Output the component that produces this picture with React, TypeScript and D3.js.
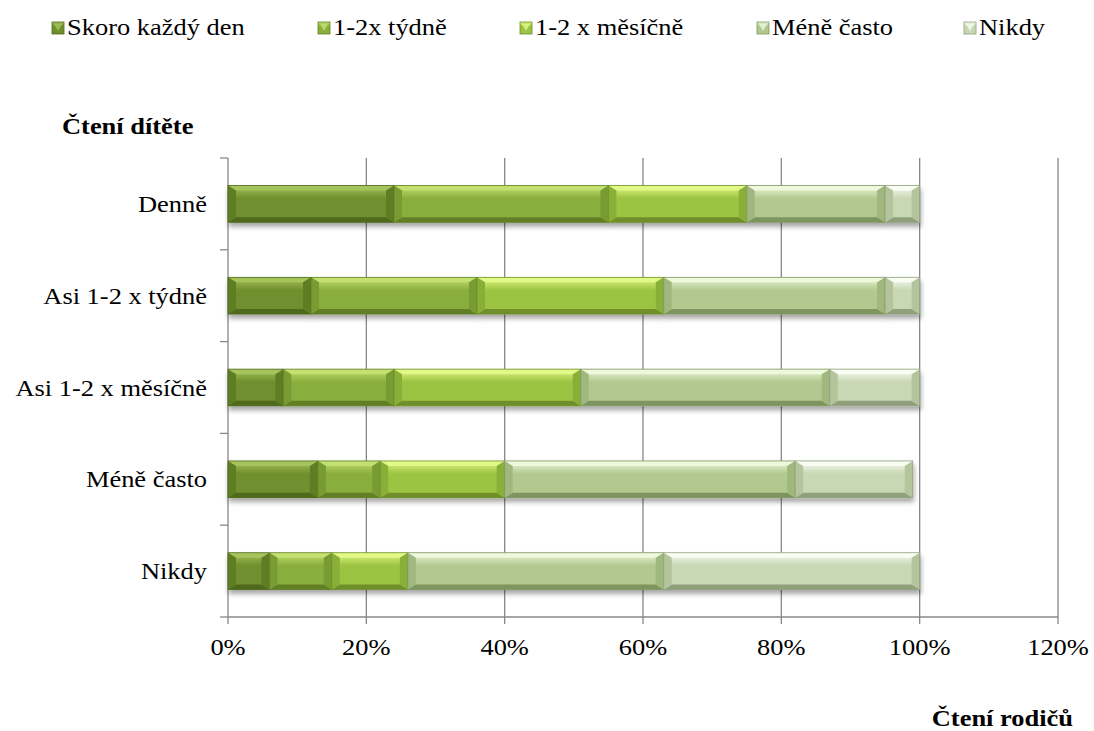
import React from 'react';
import * as d3 from 'd3';

// reading of the child (rows) vs. reading of the parents (series)
const categories = ['Denně', 'Asi 1-2 x týdně', 'Asi 1-2 x měsíčně', 'Méně často', 'Nikdy'];
const seriesNames = ['Skoro každý den', '1-2x týdně', '1-2 x měsíčně', 'Méně často', 'Nikdy'];

const skoroKazdyDen = [0.24, 0.12, 0.08, 0.13, 0.06];
const tydne = [0.31, 0.24, 0.16, 0.09, 0.09];
const mesicne = [0.20, 0.27, 0.27, 0.18, 0.11];
const meneCasto = [0.20, 0.32, 0.36, 0.42, 0.37];
const nikdy = [0.05, 0.05, 0.13, 0.17, 0.37];

const xTicks = [0, 0.2, 0.4, 0.6, 0.8, 1.0, 1.2];

// base, light (top), dark (bottom), side bevel
const palette = [
  { base: '#6f8f2d', light: '#a6c45c', dark: '#4f6a1c', side: '#5f7d24' },
  { base: '#8aae3d', light: '#c4e070', dark: '#627f26', side: '#789c33' },
  { base: '#9cc442', light: '#e2f887', dark: '#6f8f2a', side: '#88b038' },
  { base: '#b1c98e', light: '#eef8dc', dark: '#7f9561', side: '#a0b87e' },
  { base: '#c8d7b4', light: '#fafdf4', dark: '#90a07c', side: '#b4c59e' },
];

const FONT = "'Liberation Serif'";
const SX = 1.15;

const W = 1094;
const H = 731;
const left = 228;
const right = 1058;
const top = 158;
const bottom = 617;

const T: React.FC<{ x: number; y: number; anchor?: string; bold?: boolean; size?: number; children: React.ReactNode }> = ({ x, y, anchor = 'start', bold, size = 23, children }) => (
  <text
    transform={`translate(${x},${y}) scale(${SX},1)`}
    textAnchor={anchor}
    style={{ fontFamily: FONT, fontSize: size, fontWeight: bold ? 'bold' : 'normal' }}
    fill="#000"
  >
    {children}
  </text>
);

const Bevel: React.FC<{ x0: number; x1: number; y0: number; y1: number; c: typeof palette[0]; id: number }> = ({ x0, x1, y0, y1, c, id }) => {
  const b = Math.min(8, (x1 - x0) / 2);
  const bv = 5;
  const p = (pts: number[][]) => pts.map(q => q.join(',')).join(' ');
  return (
    <g>
      <rect x={x0} y={y0} width={x1 - x0} height={y1 - y0} fill={`url(#face${id})`} />
      <polygon points={p([[x0, y0], [x1, y0], [x1 - b, y0 + bv], [x0 + b, y0 + bv]])} fill={c.light} />
      <polygon points={p([[x0, y1], [x1, y1], [x1 - b, y1 - bv], [x0 + b, y1 - bv]])} fill={c.dark} />
      <polygon points={p([[x0, y0], [x0 + b, y0 + bv], [x0 + b, y1 - bv], [x0, y1]])} fill={c.side} />
      <polygon points={p([[x1, y0], [x1 - b, y0 + bv], [x1 - b, y1 - bv], [x1, y1]])} fill={c.side} />
      <rect x={x0} y={y0} width={x1 - x0} height={y1 - y0} fill="none" stroke={c.dark} strokeWidth={0.8} />
    </g>
  );
};

export default function App() {
  const x = d3.scaleLinear().domain([0, 1.2]).range([left, right]);
  const y = d3.scaleBand<string>().domain(categories).range([top, bottom]).paddingInner(0.6).paddingOuter(0.3);
  const bounds = d3.range(categories.length + 1).map(i => top + (i * (bottom - top)) / categories.length);

  const rows = categories.map((cat, i) => ({
    cat,
    skoro: skoroKazdyDen[i],
    tydne: tydne[i],
    mesicne: mesicne[i],
    mene: meneCasto[i],
    nikdy: nikdy[i],
  }));
  const stack = d3.stack<any>().keys(['skoro', 'tydne', 'mesicne', 'mene', 'nikdy'])(rows);

  const legendX = [52, 318, 520, 757, 964];

  return (
    <svg width={W} height={H} style={{ position: 'absolute', left: 0, top: 0, background: '#fff' }}>
      <defs>
        {palette.map((c, i) => (
          <linearGradient key={i} id={`face${i}`} x1="0" y1="0" x2="0" y2="1">
            <stop offset="0" stopColor={c.light} />
            <stop offset="0.35" stopColor={c.base} />
            <stop offset="1" stopColor={c.base} />
          </linearGradient>
        ))}
        <filter id="shadow" x="-5%" y="-30%" width="110%" height="180%">
          <feDropShadow dx="1" dy="4" stdDeviation="2.5" floodColor="#000" floodOpacity="0.35" />
        </filter>
      </defs>

      {/* legend */}
      {seriesNames.map((name, i) => (
        <g key={name}>
          <rect x={legendX[i]} y={22} width={12} height={12} fill={`url(#face${i})`} stroke={palette[i].dark} strokeWidth={0.8} />
          <polygon points={`${legendX[i] + 2},${24} ${legendX[i] + 10},${24} ${legendX[i] + 6},${31}`} fill={palette[i].light} opacity={0.8} />
          <T x={legendX[i] + 15} y={35}>{name}</T>
        </g>
      ))}

      <T x={62} y={134} bold>Čtení dítěte</T>
      <T x={1073} y={726} anchor="end" bold>Čtení rodičů</T>

      {/* grid */}
      {xTicks.map(t => (
        <g key={t}>
          <line x1={x(t)} x2={x(t)} y1={top} y2={bottom + 7} stroke="#888" strokeWidth={1.3} />
          <T x={x(t)} y={655} anchor="middle">{d3.format('.0%')(t)}</T>
        </g>
      ))}
      <line x1={left} x2={right} y1={bottom} y2={bottom} stroke="#888" strokeWidth={1.3} />
      {bounds.map((b, i) => (
        <line key={i} x1={left - 8} x2={left} y1={b} y2={b} stroke="#888" strokeWidth={1.3} />
      ))}

      {/* bars */}
      {categories.map((cat, ci) => (
        <g key={cat} filter="url(#shadow)">
          {stack.map((s, si) => (
            <Bevel
              key={si}
              id={si}
              c={palette[si]}
              x0={x(s[ci][0])}
              x1={x(s[ci][1])}
              y0={y(cat)!}
              y1={y(cat)! + y.bandwidth()}
            />
          ))}
        </g>
      ))}

      {categories.map(cat => (
        <T key={cat} x={207} y={y(cat)! + y.bandwidth() / 2 + 8} anchor="end">{cat}</T>
      ))}
    </svg>
  );
}
